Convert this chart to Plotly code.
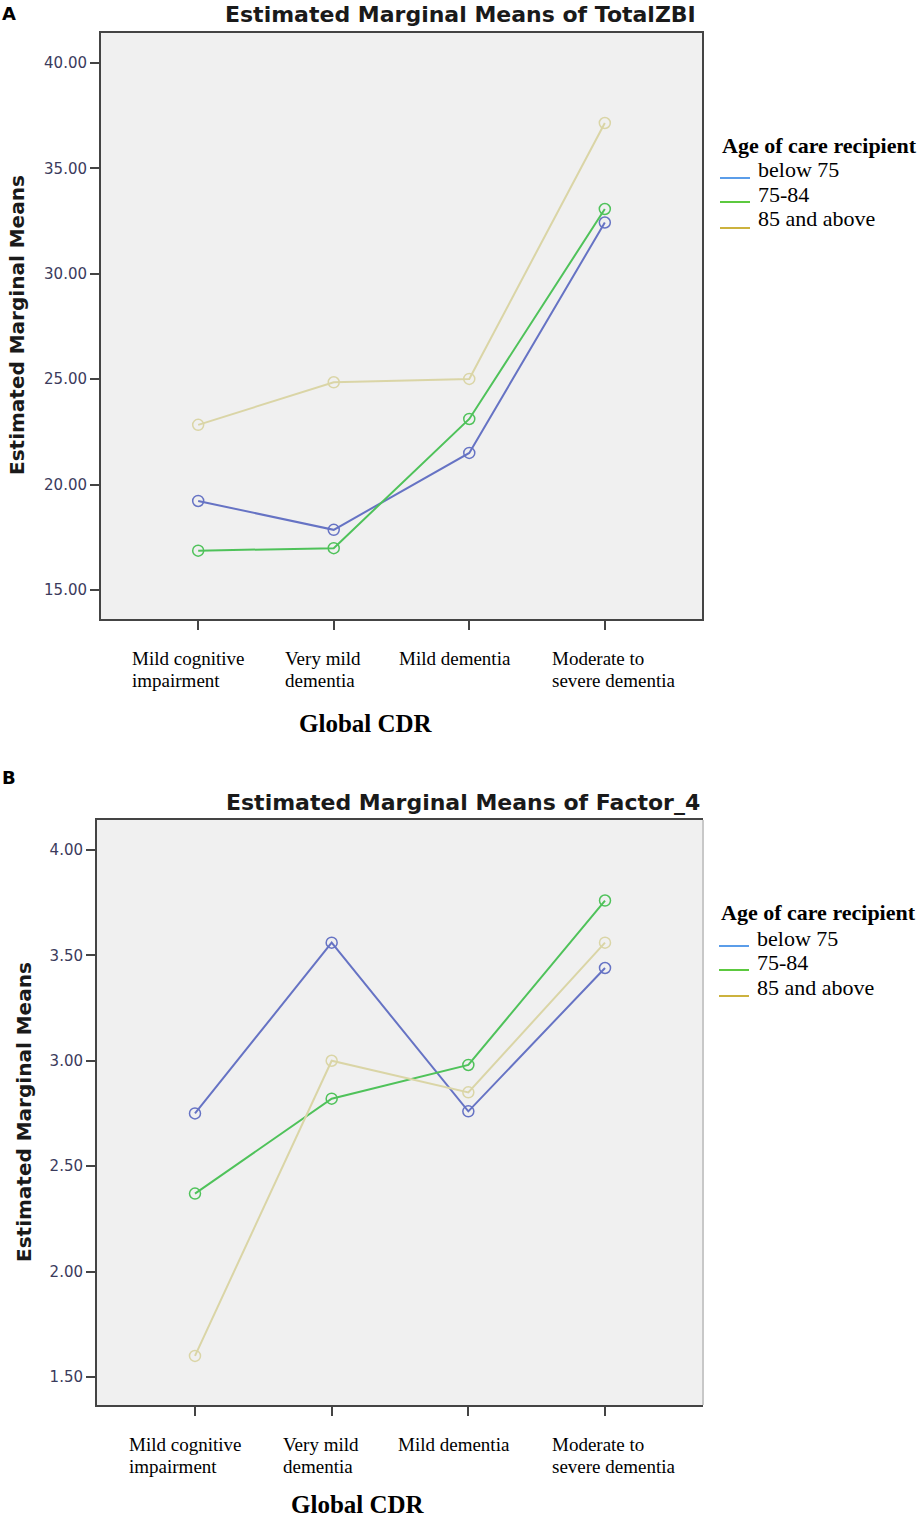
import plotly.graph_objects as go

W, H = 919, 1519

cdr_levels = ["Mild cognitive<br>impairment", "Very mild<br>dementia", "Mild dementia", "Moderate to<br>severe dementia"]
age_groups = ["below 75", "75-84", "85 and above"]

zbi_below75 = [19.22, 17.85, 21.5, 32.43]
zbi_75_84 = [16.86, 16.98, 23.11, 33.07]
zbi_85plus = [22.83, 24.85, 25.01, 37.15]

f4_below75 = [2.75, 3.56, 2.76, 3.44]
f4_75_84 = [2.37, 2.82, 2.98, 3.76]
f4_85plus = [1.60, 3.00, 2.85, 3.56]

zbi_ticks = [15, 20, 25, 30, 35, 40]
f4_ticks = [1.5, 2.0, 2.5, 3.0, 3.5, 4.0]

line_cols = ["#6673c4", "#4fc25a", "#dad5a6"]
legend_cols = ["#5b9de9", "#5cc93f", "#ccb23e"]

def px(x):
    return x / W

def py(y):
    return 1 - y / H

fig = go.Figure()

panels = [
    ("x", "y", [zbi_below75, zbi_75_84, zbi_85plus]),
    ("x2", "y2", [f4_below75, f4_75_84, f4_85plus]),
]
for xa, ya, series in panels:
    for name, vals, col in zip(age_groups, series, line_cols):
        fig.add_trace(go.Scatter(
            x=cdr_levels, y=vals, xaxis=xa, yaxis=ya, name=name,
            mode="lines+markers", showlegend=False,
            line=dict(color=col, width=2),
            marker=dict(symbol="circle-open", size=11, color=col, line=dict(width=1.5)),
        ))

tickfont = dict(family="DejaVu Sans", size=15, color="#3b3b5c")
common_x = dict(type="category", categoryorder="array", categoryarray=cdr_levels,
                showticklabels=False, ticks="outside", ticklen=9, tickwidth=2, tickcolor="#444",
                showline=True, linecolor="#444", linewidth=2, mirror=True,
                showgrid=False, zeroline=False, range=[-0.717, 3.717])
common_y = dict(ticks="outside", ticklen=9, tickwidth=2, tickcolor="#444",
                showline=True, linecolor="#444", linewidth=2,
                showgrid=False, zeroline=False, tickfont=tickfont, tickformat=".2f")

fig.update_layout(
    width=W, height=H, margin=dict(l=0, r=0, t=0, b=0),
    paper_bgcolor="white", plot_bgcolor="#f0f0f0", showlegend=False,
    xaxis=dict(common_x, domain=[px(101), px(702)], anchor="y"),
    yaxis=dict(common_y, domain=[py(619), py(33)], range=[13.62, 41.42],
               tickvals=zbi_ticks, anchor="x", mirror=True),
    xaxis2=dict(common_x, domain=[px(97), px(703)], anchor="y2"),
    yaxis2=dict(common_y, domain=[py(1405), py(820)], range=[1.367, 4.142],
                tickvals=f4_ticks, anchor="x2", mirror=False),
)

# light right border of panel B
fig.add_shape(type="line", xref="paper", yref="paper", x0=px(703), x1=px(703),
              y0=py(1405), y1=py(820), line=dict(color="#c8c8c8", width=2))

ann = []
serif = "Liberation Serif"
sans = "DejaVu Sans"

# panel letter, title, axis titles, legend positions (pixels)
panel_text = [
    ("A", 14, "TotalZBI", 15, 698, 325, 17, 366, 723, 658, [178, 202, 228], [170, 194, 219], 145, 720),
    ("B", 777, "Factor_4", 802, 702, 1112, 24, 358, 1504, 1444, [946, 970, 996], [938, 962, 988], 913, 719),
]
for i, (lab, ly, var, ty, tx, yty, ytx, gx, gy, cat_y, leg_l, leg_t, leg_title_y, lx) in enumerate(panel_text):
    xref = "x" if i == 0 else "x2"
    ann.append(dict(text="<b>%s</b>" % lab, x=0, y=py(ly), xanchor="left", yanchor="middle",
                    font=dict(family=sans, size=18, color="black")))
    ann.append(dict(text="<b>Estimated Marginal Means of %s</b>" % var, x=px(tx), y=py(ty),
                    xanchor="right", yanchor="middle",
                    font=dict(family=sans, size=22, color="#1a1a1a")))
    ann.append(dict(text="<b>Estimated Marginal Means</b>", x=px(ytx), y=py(yty), textangle=-90,
                    xanchor="center", yanchor="middle",
                    font=dict(family=sans, size=20, color="#1a1a1a")))
    ann.append(dict(text="<b>Global CDR</b>", x=px(gx), y=py(gy), xanchor="center", yanchor="middle",
                    font=dict(family=serif, size=25, color="black")))
    shifts = [-68, -51, -72, -55]
    for cat, s in zip(cdr_levels, shifts):
        for j, part in enumerate(cat.split("<br>")):
            ann.append(dict(text=part, x=cat, xref=xref, y=py(cat_y + 22 * j), yref="paper",
                            xanchor="left", yanchor="middle", xshift=s,
                            font=dict(family=serif, size=19, color="black")))
    ann.append(dict(text="<b>Age of care recipient</b>", x=px(lx), y=py(leg_title_y),
                    xanchor="left", yanchor="middle",
                    font=dict(family=serif, size=22, color="black")))
    for name, col, yl, yt in zip(age_groups, legend_cols, leg_l, leg_t):
        fig.add_shape(type="line", xref="paper", yref="paper", x0=px(lx), x1=px(lx + 30),
                      y0=py(yl), y1=py(yl), line=dict(color=col, width=2))
        ann.append(dict(text=name, x=px(lx + 36), y=py(yt), xanchor="left", yanchor="middle",
                        font=dict(family=serif, size=22, color="black")))

for a in ann:
    a.setdefault("xref", "paper")
    a.setdefault("yref", "paper")
    a["showarrow"] = False
fig.update_layout(annotations=ann)

fig.write_html("out.html", config={"displayModeBar": False},
               post_script="document.body.style.margin='0';")
